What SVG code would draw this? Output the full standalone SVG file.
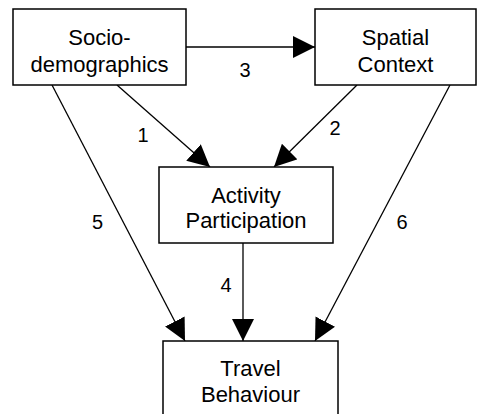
<svg xmlns="http://www.w3.org/2000/svg" width="478" height="414" viewBox="0 0 478 414">
<defs>
<marker id="ah" markerUnits="userSpaceOnUse" markerWidth="22" markerHeight="22" viewBox="0 0 20 20" refX="20" refY="10" orient="auto">
<path d="M0,0 L20,10 L0,20 Z" fill="#000"/>
</marker>
</defs>
<style>
.box{fill:#fff;stroke:#000;stroke-width:1.5}
.t{font-family:"Liberation Sans",Arial,sans-serif;font-size:22px;text-anchor:middle;fill:#000}
.l{font-family:"Liberation Sans",Arial,sans-serif;font-size:20px;text-anchor:middle;fill:#000}
.c{stroke:#000;stroke-width:1.3;fill:none;marker-end:url(#ah)}
</style>
<rect width="478" height="414" fill="#fff"/>
<g id="connectors">
<line class="c" x1="186" y1="47" x2="315" y2="47"/>
<line class="c" x1="117" y1="85" x2="210" y2="167"/>
<line class="c" x1="357" y1="85" x2="274" y2="167"/>
<line class="c" x1="52" y1="85" x2="185" y2="341"/>
<line class="c" x1="450" y1="85" x2="315" y2="341"/>
<line class="c" x1="243" y1="243" x2="243" y2="341"/>
<text class="l" x="245" y="77">3</text>
<text class="l" x="143" y="142">1</text>
<text class="l" x="335" y="135">2</text>
<text class="l" x="97.5" y="229">5</text>
<text class="l" x="402" y="229">6</text>
<text class="l" x="226" y="292">4</text>
</g>
<g id="socio">
<rect class="box" x="13" y="9" width="173" height="76"/>
<text class="t" x="99.5" y="45">Socio-</text>
<text class="t" x="99.5" y="72">demographics</text>
</g>
<g id="spatial">
<rect class="box" x="315" y="9" width="161" height="76"/>
<text class="t" x="395.5" y="45">Spatial</text>
<text class="t" x="395.5" y="72">Context</text>
</g>
<g id="activity">
<rect class="box" x="159" y="167" width="174" height="76"/>
<text class="t" x="246" y="203">Activity</text>
<text class="t" x="246" y="228">Participation</text>
</g>
<g id="travel">
<rect class="box" x="163" y="341" width="175" height="80"/>
<text class="t" x="250.5" y="376">Travel</text>
<text class="t" x="250.5" y="402">Behaviour</text>
</g>
</svg>
